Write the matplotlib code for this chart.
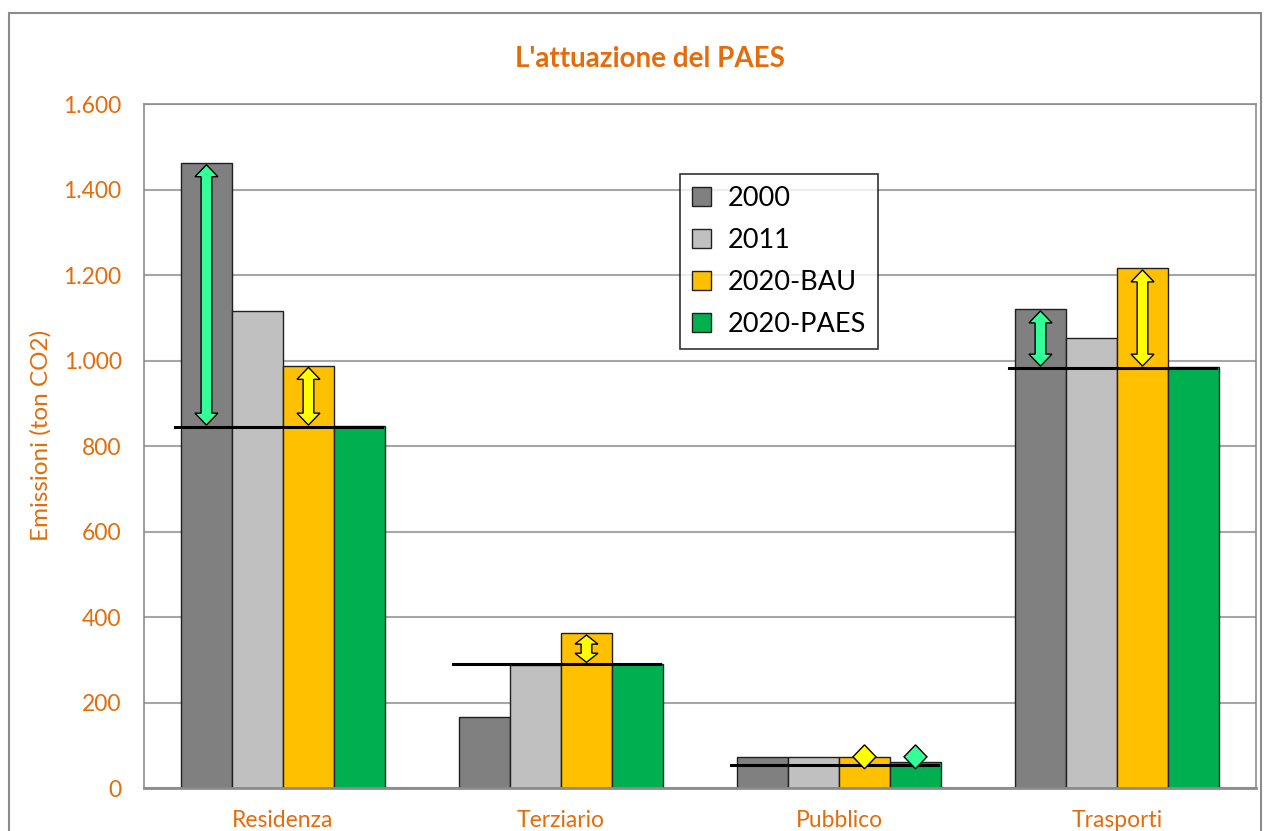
import numpy as np
import matplotlib.pyplot as plt
from matplotlib.patches import Polygon, Rectangle
from matplotlib.ticker import FuncFormatter

categories = ["Residenza", "Terziario", "Pubblico", "Trasporti"]
series = ["2000", "2011", "2020-BAU", "2020-PAES"]
v2000 = [1462, 166, 73, 1120]
v2011 = [1116, 288, 73, 1053]
vbau = [988, 362, 73, 1216]
vpaes = [847, 290, 61, 985]
target = [845, 290, 55, 983]
# (categoria, serie, colore freccia)
arrows = [(0, 0, "#33FF99"), (0, 2, "#FFFF00"), (1, 2, "#FFFF00"),
          (2, 2, "#FFFF00"), (2, 3, "#33FF99"), (3, 0, "#33FF99"), (3, 2, "#FFFF00")]

colors = ["#808080", "#C0C0C0", "#FFC000", "#00B050"]
orange = "#E46C0A"
values = [v2000, v2011, vbau, vpaes]

plt.rcParams["font.family"] = ["Lato", "DejaVu Sans"]
fig = plt.figure(figsize=(12.66, 8.31), dpi=100)
ax = fig.add_axes([0.1137, 0.0517, 0.8784, 0.8231])

# cornice esterna
fig.patches.append(Rectangle((9 / 1266, -0.1), 1252 / 1266, 1.1 - 13 / 831, transform=fig.transFigure,
                             fill=False, edgecolor="#8C8C8C", linewidth=1.5))

x = np.arange(len(categories))
w = 0.1835
for j, s in enumerate(series):
    ax.bar(x + (j - 1.5) * w, values[j], w, color=colors[j], edgecolor="#202020",
           linewidth=1.0, label=s, zorder=2)

# linee obiettivo
for i in range(len(categories)):
    ax.plot([x[i] - 2 * w - 0.02, x[i] + 2 * w - 0.01], [target[i], target[i]],
            color="black", linewidth=2.2, zorder=4)

def double_arrow(xc, top, bot, color, yc):
    hw_head = 0.45 * w / 2
    hw_shaft = 0.21 * w / 2
    h = min(28, (top - bot) / 3)
    if top - bot < 40:
        h = 28
        pts = [(xc, yc + h), (xc + hw_head, yc), (xc, yc - h), (xc - hw_head, yc)]
    else:
        pts = [(xc, top), (xc + hw_head, top - h), (xc + hw_shaft, top - h),
               (xc + hw_shaft, bot + h), (xc + hw_head, bot + h), (xc, bot),
               (xc - hw_head, bot + h), (xc - hw_shaft, bot + h),
               (xc - hw_shaft, top - h), (xc - hw_head, top - h)]
    ax.add_patch(Polygon(pts, closed=True, facecolor=color, edgecolor="black",
                         linewidth=1.0, zorder=5))

for ci, sj, col in arrows:
    xc = x[ci] + (sj - 1.5) * w
    top = values[sj][ci] - 4
    bot = target[ci] + 4
    double_arrow(xc, top, bot, col, max(v[ci] for v in values))

ax.set_xlim(-0.5, 3.5)
ax.set_ylim(0, 1600)
ax.set_yticks(range(0, 1601, 200))
ax.yaxis.set_major_formatter(FuncFormatter(lambda v, p: f"{int(v):,}".replace(",", ".")))
ax.set_xticks(x)
ax.set_xticklabels(categories)
ax.tick_params(axis="both", length=0, labelsize=16.5, labelcolor=orange)
ax.tick_params(axis="y", pad=16)
ax.tick_params(axis="x", pad=16)
ax.grid(axis="y", color="#A6A6A6", linewidth=1.5, zorder=0)
ax.set_axisbelow(True)
for sp in ["top", "right", "left"]:
    ax.spines[sp].set_color("#8C8C8C")
    ax.spines[sp].set_linewidth(1.2)
ax.spines["bottom"].set_color("#8C8C8C")
ax.spines["bottom"].set_linewidth(2)

ax.set_ylabel("Emissioni (ton CO2)", color=orange, fontsize=17.5)
ax.yaxis.set_label_coords(-0.083, 0.515)
fig.text(0.513, 0.929, "L'attuazione del PAES", color=orange, fontsize=20,
         fontweight="bold", ha="center", va="center")

leg = ax.legend(loc="upper left", bbox_to_anchor=(0.482, 0.8977), fontsize=19.5,
                frameon=True, fancybox=False, handlelength=0.7, handleheight=0.7,
                handletextpad=0.6, labelspacing=0.62, borderpad=0.45, borderaxespad=0)
leg.get_frame().set_edgecolor("black")
leg.get_frame().set_linewidth(1.2)
leg.set_zorder(6)

fig.savefig("out.png", dpi=100)
